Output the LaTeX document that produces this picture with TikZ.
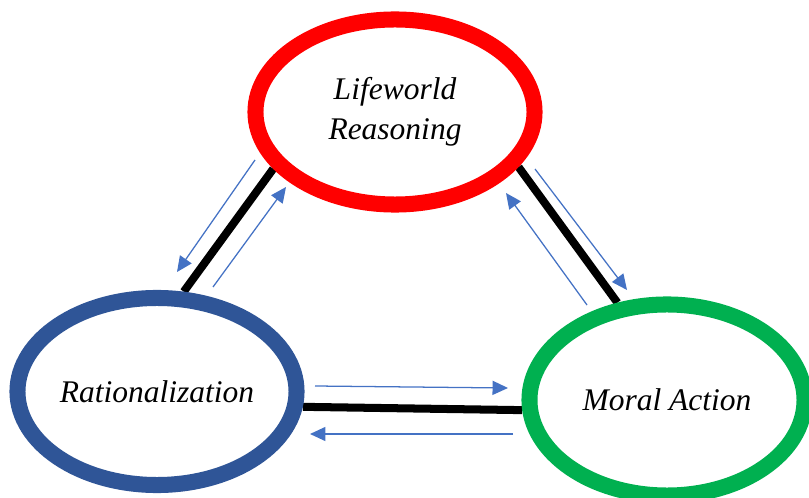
\documentclass[tikz,border=0pt]{standalone}
\usepackage{fontspec}
\setmainfont{Liberation Serif}
\usetikzlibrary{arrows.meta, shapes.geometric, backgrounds}
\definecolor{lifecolor} {RGB}{255, 0, 0}
\definecolor{ratcolor}  {RGB}{47, 85, 151}
\definecolor{moralcolor}{RGB}{0, 176, 80}
\definecolor{flowcolor} {RGB}{68, 114, 196}
\tikzset{
	ringblock/.style={
		ellipse, inner sep=0pt, fill=white,
		line width=11.4pt, align=center,
		font=\fontsize{22.4}{28.4}\selectfont\itshape
	},
	linkline/.style={
		line width=5.7pt, color=black
	},
	flowarrow/.style={
		-{Triangle[length=11pt, width=10pt]}, line width=0.9pt, color=flowcolor
	}
}

\begin{document}
\begin{tikzpicture}[x=0.025cm, y=-0.025cm]
		\useasboundingbox (0,0) rectangle (809,498);
		%% ═══════════════════════════════
		%%  RINGS
		%% ═══════════════════════════════
		\node[ringblock, draw=lifecolor,
		minimum width=6.975cm, minimum height=4.625cm] (life) at (395,112) {Lifeworld\\Reasoning};
		
		\node[ringblock, draw=ratcolor,
		minimum width=6.975cm, minimum height=4.675cm] (rat) at (157,391.5) {Rationalization};
		
		\node[ringblock, draw=moralcolor,
		minimum width=6.875cm, minimum height=4.775cm] (moral) at (667,400) {Moral Action};
		
		%% ═══════════════════════════════
		%%  LINKS (behind the rings)
		%% ═══════════════════════════════
		\begin{scope}[on background layer]
			\draw[linkline] (life.205) -- (rat.75);
			\draw[linkline] (life.336) -- (moral.117);
			\draw[linkline] (rat.354) -- (moral.184);
		\end{scope}
		
		%% ═══════════════════════════════
		%%  FLOW ARROWS
		%% ═══════════════════════════════
		\coordinate (lr-a) at (255,160);
		\coordinate (lr-b) at (177,272);
		\coordinate (rl-a) at (213,287);
		\coordinate (rl-b) at (286,187);
		\coordinate (lm-a) at (535,169);
		\coordinate (lm-b) at (627,290);
		\coordinate (ml-a) at (587,305);
		\coordinate (ml-b) at (506,193);
		\coordinate (rm-a) at (315,386);
		\coordinate (rm-b) at (508,388);
		\coordinate (mr-a) at (513,434);
		\coordinate (mr-b) at (310,434);
		
		% Lifeworld <-> Rationalization
		\draw[flowarrow] (lr-a) -- (lr-b);
		\draw[flowarrow] (rl-a) -- (rl-b);
		
		% Lifeworld <-> Moral Action
		\draw[flowarrow] (lm-a) -- (lm-b);
		\draw[flowarrow] (ml-a) -- (ml-b);
		
		% Rationalization <-> Moral Action
		\draw[flowarrow] (rm-a) -- (rm-b);
		\draw[flowarrow] (mr-a) -- (mr-b);
		
	\end{tikzpicture}
\end{document}
